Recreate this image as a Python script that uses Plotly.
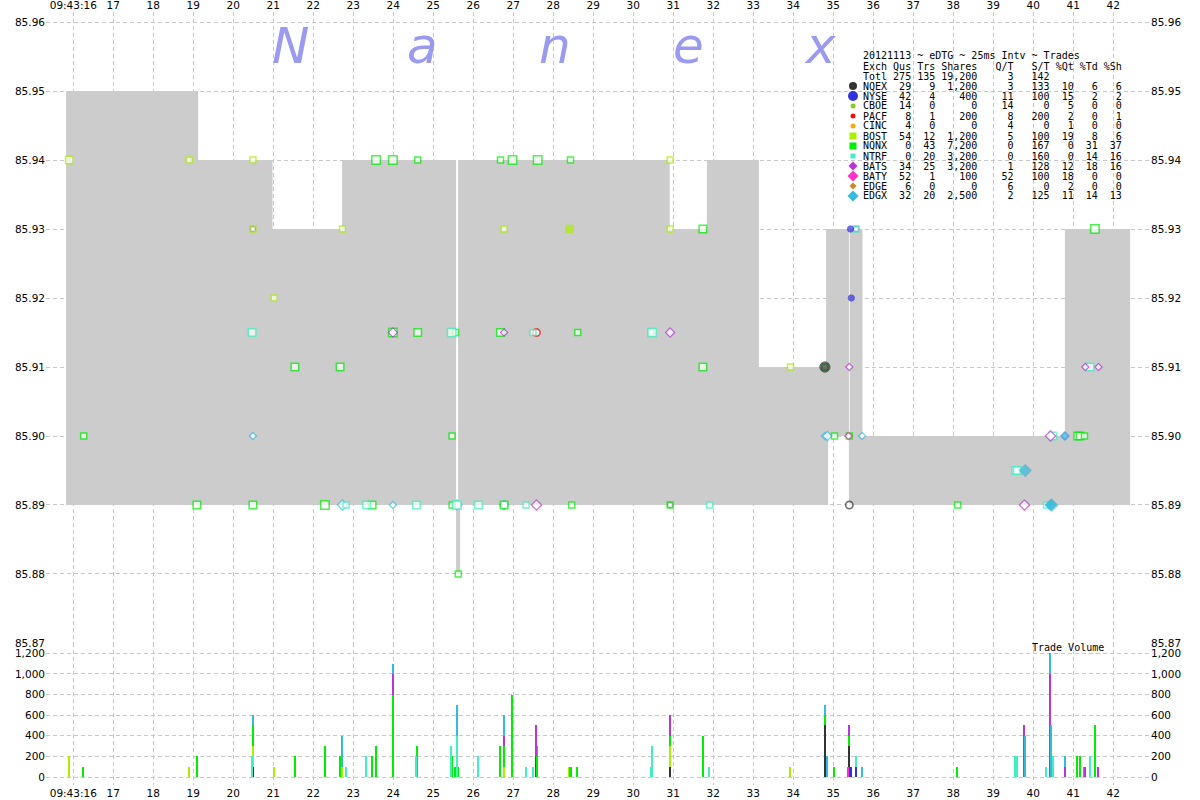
import math
import plotly.graph_objects as go

# ---------------- data ----------------
TIME_TICKS = list(range(16, 43))
TIME_LABELS = ["09:43:16"] + [str(s) for s in range(17, 43)]
PRICE_TICKS = [85.87, 85.88, 85.89, 85.90, 85.91, 85.92, 85.93, 85.94, 85.95, 85.96]
VOL_TICKS = [0, 200, 400, 600, 800, 1000, 1200]

# NBBO step changes (seconds after 09:43:00)
nbbo_t   = [15.82, 19.12, 20.98, 22.72, 25.57, 25.62, 25.67, 30.91, 31.84, 33.14, 34.82, 34.87, 35.39, 35.41, 35.73, 40.79, 42.42]
nbbo_ask = [85.95, 85.94, 85.93, 85.94, 85.89, 85.94, 85.94, 85.93, 85.94, 85.91, 85.93, 85.93, 85.90, 85.93, 85.90, 85.93, 85.93]
nbbo_bid = [85.89, 85.89, 85.89, 85.89, 85.88, 85.88, 85.89, 85.89, 85.89, 85.89, 85.89, 85.90, 85.89, 85.89, 85.89, 85.89, 85.89]

# trades per exchange: (time, price, shares, condition)  R = regular, X = sweep
nqex_trades = [(20.49, 85.93, 100, "R"), (30.92, 85.89, 100, "R"), (34.79, 85.91, 500, "X"),
               (35.40, 85.90, 100, "R"), (35.40, 85.89, 200, "R")]
nyse_trades = [(35.43, 85.93, 100, "X"), (35.45, 85.92, 100, "X"), (35.57, 85.93, 100, "R")]
pacf_trades = [(27.58, 85.915, 200, "R")]
bost_trades = [(15.90, 85.94, 200, "R"), (18.90, 85.94, 100, "R"), (20.49, 85.94, 100, "R"),
               (20.49, 85.93, 100, "R"), (21.02, 85.92, 100, "R"), (22.73, 85.93, 100, "R"),
               (26.77, 85.93, 100, "R"), (28.41, 85.93, 100, "X"), (30.92, 85.94, 100, "R"),
               (30.92, 85.93, 100, "R"), (33.93, 85.91, 100, "R")]
nqnx_trades = [(16.26, 85.90, 100, "R"), (19.09, 85.89, 200, "R"), (20.49, 85.89, 200, "R"),
               (21.54, 85.91, 200, "R"), (22.29, 85.89, 300, "R"), (22.67, 85.91, 200, "R"),
               (23.47, 85.89, 200, "R"), (23.57, 85.94, 300, "R"), (23.99, 85.94, 400, "R"),
               (23.99, 85.915, 400, "R"), (24.61, 85.94, 100, "R"), (24.61, 85.915, 200, "R"),
               (25.47, 85.90, 100, "R"), (25.47, 85.89, 100, "R"), (25.56, 85.915, 100, "R"),
               (25.625, 85.88, 100, "R"), (26.68, 85.94, 100, "R"), (26.68, 85.915, 200, "R"),
               (26.77, 85.89, 200, "R"), (26.98, 85.94, 800, "R"), (27.61, 85.94, 300, "R"),
               (28.43, 85.94, 100, "R"), (28.46, 85.89, 100, "R"), (28.61, 85.915, 100, "R"),
               (30.92, 85.89, 100, "R"), (31.74, 85.93, 200, "R"), (31.74, 85.91, 200, "R"),
               (34.79, 85.91, 100, "R"), (35.03, 85.90, 100, "R"), (35.40, 85.90, 100, "R"),
               (38.11, 85.89, 100, "R"), (41.11, 85.90, 200, "R"), (41.17, 85.90, 200, "R"),
               (41.28, 85.90, 100, "R"), (41.54, 85.93, 500, "R")]
ntrf_trades = [(20.47, 85.915, 200, "R"), (22.82, 85.89, 100, "R"), (23.33, 85.89, 200, "R"),
               (24.58, 85.89, 200, "R"), (25.46, 85.915, 300, "R"), (25.59, 85.89, 400, "R"),
               (26.13, 85.89, 200, "R"), (27.32, 85.89, 100, "R"), (27.49, 85.915, 100, "R"),
               (30.44, 85.915, 100, "R"), (30.47, 85.915, 300, "R"), (31.91, 85.89, 100, "R"),
               (35.57, 85.93, 100, "R"), (39.56, 85.895, 200, "R"), (39.60, 85.895, 200, "R"),
               (40.33, 85.89, 100, "R"), (40.49, 85.90, 200, "R"), (41.42, 85.91, 200, "R")]
bats_trades = [(23.99, 85.915, 200, "R"), (26.77, 85.915, 100, "R"), (27.58, 85.89, 300, "R"),
               (30.92, 85.915, 200, "R"), (35.40, 85.91, 100, "R"), (39.78, 85.89, 500, "R"),
               (40.43, 85.90, 1000, "R"), (40.79, 85.90, 100, "R"), (41.30, 85.91, 100, "R"),
               (41.63, 85.91, 100, "R")]
baty_trades = [(35.38, 85.90, 100, "R")]
edgx_trades = [(20.49, 85.90, 100, "R"), (22.73, 85.89, 300, "R"), (23.99, 85.89, 100, "R"),
               (25.59, 85.89, 300, "R"), (26.77, 85.89, 200, "R"), (34.79, 85.90, 100, "R"),
               (34.85, 85.90, 200, "R"), (35.72, 85.90, 100, "R"), (39.80, 85.895, 400, "X"),
               (40.43, 85.89, 200, "X"), (40.46, 85.89, 500, "X"), (40.79, 85.90, 100, "X")]

# summary table text
stats_title = "20121113 ~ eDTG ~ 25ms Intv ~ Trades"
stats_header = ["Exch", "Qus", "Trs", "Shares", "Q/T", "S/T", "%Qt", "%Td", "%Sh"]
stats_total = ["Totl", "275", "135", "19,200", "3", "142", "", "", ""]
stats_exch = ["NQEX", "NYSE", "CBOE", "PACF", "CINC", "BOST", "NQNX", "NTRF", "BATS", "BATY", "EDGE", "EDGX"]
stats_qus = [29, 42, 14, 8, 4, 54, 0, 0, 34, 52, 6, 32]
stats_trs = [9, 4, 0, 1, 0, 12, 43, 20, 25, 1, 0, 20]
stats_shares = [1200, 400, 0, 200, 0, 1200, 7200, 3200, 3200, 100, 0, 2500]
stats_qt = [3, 11, 14, 8, 4, 5, 0, 0, 1, 52, 6, 2]
stats_st = [133, 100, 0, 200, 0, 100, 167, 160, 128, 100, 0, 125]
stats_pq = [10, 15, 5, 2, 1, 19, 0, 0, 12, 18, 2, 11]
stats_ptd = [6, 2, 0, 0, 0, 8, 31, 14, 18, 0, 0, 14]
stats_psh = [6, 2, 0, 1, 0, 6, 37, 16, 16, 0, 0, 13]

# ---------------- styles ----------------
COL = {"NQEX": "#333333", "NYSE": "#3333dd", "CBOE": "#88cc22", "PACF": "#ee1111",
       "CINC": "#ffaa00", "BOST": "#aaf000", "NQNX": "#00ee00", "NTRF": "#40f0c0",
       "BATS": "#bb33dd", "BATY": "#ff33cc", "EDGE": "#cc8822", "EDGX": "#33bbdd"}
SYM = {"NQEX": "circle", "NYSE": "circle", "PACF": "circle", "BOST": "square",
       "NQNX": "square", "NTRF": "square", "BATS": "diamond", "BATY": "diamond", "EDGX": "diamond"}
TRADES = {"NQEX": nqex_trades, "NYSE": nyse_trades, "PACF": pacf_trades, "BOST": bost_trades,
          "NQNX": nqnx_trades, "NTRF": ntrf_trades, "BATS": bats_trades, "BATY": baty_trades,
          "EDGX": edgx_trades}
# legend swatch shape and pixel size
SWATCH = {"NQEX": ("circle", 8), "NYSE": ("circle", 10), "CBOE": ("circle", 5), "PACF": ("circle", 5),
          "CINC": ("circle", 5), "BOST": ("square", 7), "NQNX": ("square", 7), "NTRF": ("square", 5),
          "BATS": ("diamond", 9), "BATY": ("diamond", 11), "EDGE": ("diamond", 7), "EDGX": ("diamond", 11)}

# plot-area geometry (pixels)
PL, PR, PT, PB = 46, 1150, 12, 785
X0 = 16 + (PL - 73.3) / 40.0
X1 = 16 + (PR - 73.3) / 40.0
PX_PER_CENT = 69.0
Y_TOP = 85.96 + (22 - PT) / PX_PER_CENT * 0.01
VOL_PX = 123.7 / 1200.0
PRICE_BOTTOM_PX = 643
VOL_LO = -(PB - 777) / VOL_PX
VOL_HI = 1200 + (653.3 - PRICE_BOTTOM_PX) / VOL_PX
DV = (PB - PRICE_BOTTOM_PX) / (PB - PT)


def px(xp):
    return (xp - PL) / (PR - PL)


def py(yp):
    return (PB - yp) / (PB - PT)


BASE = {"circle": 4.8, "square": 6.0, "diamond": 5.5}
GROW = {"circle": 4.0, "square": 2.5, "diamond": 2.5}
LW = {"circle": 1.6, "square": 1.5, "diamond": 1.2}


def msize(shares, sym):
    return BASE[sym] + GROW[sym] * min(1.0, math.log(max(shares, 100) / 100) / math.log(3))


fig = go.Figure()

# NBBO spread shading
fig.add_trace(go.Scatter(x=nbbo_t, y=nbbo_bid, mode="lines", line=dict(width=0, shape="hv"),
                         hoverinfo="skip", showlegend=False, xaxis="x", yaxis="y"))
fig.add_trace(go.Scatter(x=nbbo_t, y=nbbo_ask, mode="lines", line=dict(width=0, shape="hv"),
                         fill="tonexty", fillcolor="#cccccc", hoverinfo="skip",
                         showlegend=False, xaxis="x", yaxis="y"))

hollow_order = ["EDGX", "NQEX", "NYSE", "PACF", "BOST", "NQNX", "NTRF", "BATS", "BATY"]
for ex in hollow_order:
    tr = [t for t in TRADES[ex] if t[3] == "R"]
    if not tr:
        continue
    sym = SYM[ex]
    fig.add_trace(go.Scatter(
        x=[t[0] for t in tr], y=[t[1] for t in tr], mode="markers",
        marker=dict(symbol=sym, size=[msize(t[2], sym) for t in tr], color="white",
                    line=dict(color=COL[ex], width=LW[sym])),
        name=ex, showlegend=False, xaxis="x", yaxis="y"))
for ex in hollow_order:
    tr = [t for t in TRADES[ex] if t[3] == "X"]
    if not tr:
        continue
    sym = SYM[ex]
    fig.add_trace(go.Scatter(
        x=[t[0] for t in tr], y=[t[1] for t in tr], mode="markers",
        marker=dict(symbol=sym, size=[msize(t[2], sym) + 1.5 for t in tr], color=COL[ex],
                    line=dict(color=COL[ex], width=1)),
        name=ex, showlegend=False, xaxis="x", yaxis="y"))

# volume bars, stacked per 25ms interval
stack_order = ["NQEX", "NYSE", "PACF", "BOST", "NQNX", "NTRF", "BATS", "BATY", "EDGX"]
for ex in stack_order:
    agg = {}
    for t, p, s, c in TRADES[ex]:
        k = int(round(t / 0.025))
        agg[k] = agg.get(k, 0) + s
    ks = sorted(agg)
    fig.add_trace(go.Bar(x=[k * 0.025 for k in ks], y=[agg[k] for k in ks], width=0.04,
                         marker=dict(color=COL[ex], line=dict(width=0)),
                         showlegend=False, xaxis="x", yaxis="y2"))

# dummy traces so the mirrored axes exist
fig.add_trace(go.Scatter(x=[nbbo_t[0]], y=[nbbo_bid[0]], mode="markers", marker=dict(opacity=0),
                         hoverinfo="skip", showlegend=False, xaxis="x2", yaxis="y3"))
fig.add_trace(go.Scatter(x=[nbbo_t[0]], y=[0], mode="markers", marker=dict(opacity=0),
                         hoverinfo="skip", showlegend=False, xaxis="x", yaxis="y4"))

TICKFONT = dict(family="DejaVu Sans", size=10.5, color="black")
GRID = dict(showgrid=True, gridcolor="#c8c8c8", griddash="4px,3px", gridwidth=1,
            zeroline=False, showline=False, ticks="", automargin=False)
NOGRID = dict(showgrid=False, zeroline=False, showline=False, ticks="", automargin=False)

fig.update_layout(
    width=1200, height=800, margin=dict(l=PL, r=1200 - PR, t=PT, b=800 - PB, autoexpand=False),
    paper_bgcolor="white", plot_bgcolor="white", barmode="stack", bargap=0,
    showlegend=False, font=TICKFONT,
    xaxis=dict(domain=[0, 1], range=[X0, X1], anchor="y2", side="bottom", tickmode="array",
               tickvals=TIME_TICKS, ticktext=TIME_LABELS, tickfont=TICKFONT, **GRID),
    xaxis2=dict(matches="x", overlaying="x", anchor="y", side="top", tickmode="array",
                tickvals=TIME_TICKS, ticktext=TIME_LABELS, tickfont=TICKFONT, **NOGRID),
    yaxis=dict(domain=[DV, 1], range=[85.87 - 1e-6, Y_TOP], anchor="x", side="left",
               tickmode="array", tickvals=PRICE_TICKS, ticktext=["%.2f" % v for v in PRICE_TICKS],
               tickfont=TICKFONT, **GRID),
    yaxis3=dict(matches="y", overlaying="y", anchor="x2", side="right", tickmode="array",
                tickvals=PRICE_TICKS, ticktext=["%.2f" % v for v in PRICE_TICKS],
                tickfont=TICKFONT, **NOGRID),
    yaxis2=dict(domain=[0, DV], range=[VOL_LO, VOL_HI], anchor="x", side="left",
                tickmode="array", tickvals=VOL_TICKS, tickformat=",", tickfont=TICKFONT, **GRID),
    yaxis4=dict(matches="y2", overlaying="y2", anchor="x", side="right", tickmode="array",
                tickvals=VOL_TICKS, tickformat=",", tickfont=TICKFONT, **NOGRID),
)

ann = []
# watermark
for ch, xp in zip("Nanex", [290, 422, 555, 688, 820]):
    ann.append(dict(text="<i>%s</i>" % ch, x=px(xp), y=py(46), xref="paper", yref="paper",
                    xanchor="center", yanchor="middle", showarrow=False,
                    font=dict(family="DejaVu Sans", size=50, color="#9a9af0")))

MONO = dict(family="DejaVu Sans Mono", size=10, color="black")
fmt = "{:<4}{:>4}{:>4}{:>7}{:>6}{:>6}{:>4}{:>4}{:>4}"


def nb(s):
    return s.replace(" ", "\u00a0")


lines = [stats_title, fmt.format(*stats_header), fmt.format(*stats_total)]
for i, ex in enumerate(stats_exch):
    lines.append(fmt.format(ex, stats_qus[i], stats_trs[i], "{:,}".format(stats_shares[i]),
                            stats_qt[i], stats_st[i], stats_pq[i], stats_ptd[i], stats_psh[i]))
for i, ln in enumerate(lines):
    ann.append(dict(text=nb(ln.rstrip()), x=px(860.5), y=py(56 + 10 * i), xref="paper", yref="paper",
                    xanchor="left", yanchor="middle", showarrow=False, font=MONO))

ann.append(dict(text="Trade\u00a0Volume", x=px(1030), y=py(647), xref="paper", yref="paper",
                xanchor="left", yanchor="middle", showarrow=False, font=MONO))

# legend swatches as shapes
shapes = []
for i, ex in enumerate(stats_exch):
    kind, s = SWATCH[ex]
    cx, cy = 853, 86 + 10 * i
    h = s / 2.0
    if kind == "diamond":
        pts = [(cx, cy - h), (cx + h, cy), (cx, cy + h), (cx - h, cy)]
        path = "M " + " L ".join("%.5f,%.5f" % (px(a), py(b)) for a, b in pts) + " Z"
        shapes.append(dict(type="path", path=path, xref="paper", yref="paper",
                           fillcolor=COL[ex], line=dict(width=0), layer="above"))
    else:
        shapes.append(dict(type="circle" if kind == "circle" else "rect", xref="paper", yref="paper",
                           x0=px(cx - h), x1=px(cx + h), y0=py(cy + h), y1=py(cy - h),
                           fillcolor=COL[ex], line=dict(width=0), layer="above"))

fig.update_layout(annotations=ann, shapes=shapes)

fig.write_html("out.html", config={"displayModeBar": False},
               post_script="document.body.style.margin='0';")
